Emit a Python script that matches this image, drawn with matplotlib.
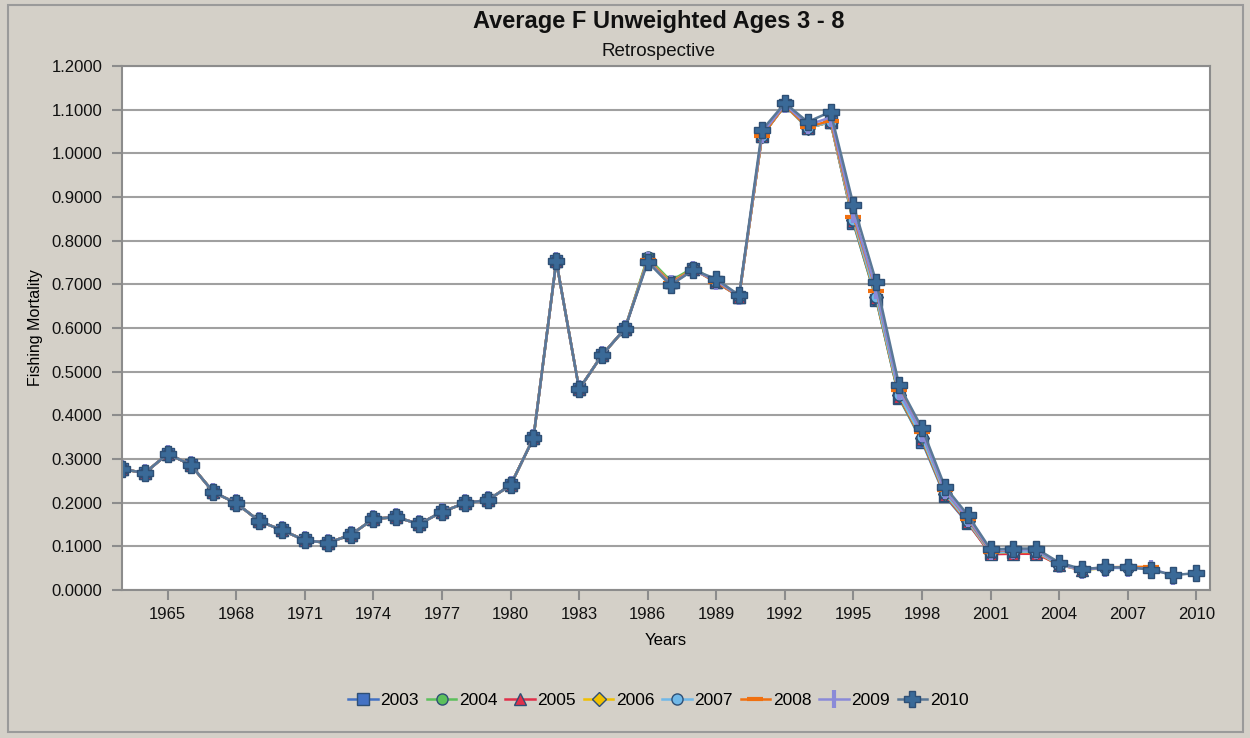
import matplotlib.pyplot as plt
import matplotlib.patches as mpatches

plt.rcParams['font.family'] = ['Liberation Sans', 'DejaVu Sans']

# years 1963-1985 are the same in every retrospective run
years_early = list(range(1963, 1986))
f_early = [0.277, 0.268, 0.312, 0.287, 0.224, 0.199, 0.158, 0.137, 0.114, 0.108,
           0.126, 0.163, 0.167, 0.151, 0.179, 0.199, 0.206, 0.240, 0.348, 0.753,
           0.460, 0.538, 0.598]

# 1986 onwards, one list per terminal year
tail_2003 = [0.758, 0.705, 0.735, 0.705, 0.672, 1.040, 1.110, 1.058, 1.072, 0.840,
             0.665, 0.440, 0.340, 0.215, 0.153, 0.085, 0.087, 0.087]
tail_2004 = [0.762, 0.708, 0.738, 0.705, 0.673, 1.040, 1.110, 1.058, 1.072, 0.842,
             0.665, 0.440, 0.343, 0.217, 0.155, 0.085, 0.088, 0.088, 0.055]
tail_2005 = [0.757, 0.705, 0.735, 0.705, 0.672, 1.040, 1.110, 1.058, 1.072, 0.845,
             0.668, 0.443, 0.345, 0.218, 0.155, 0.082, 0.083, 0.083, 0.058, 0.045]
tail_2006 = [0.757, 0.705, 0.735, 0.705, 0.673, 1.040, 1.110, 1.058, 1.072, 0.847,
             0.670, 0.446, 0.348, 0.221, 0.157, 0.085, 0.087, 0.087, 0.058, 0.046,
             0.050]
tail_2007 = [0.756, 0.704, 0.734, 0.705, 0.673, 1.040, 1.110, 1.058, 1.072, 0.848,
             0.672, 0.447, 0.350, 0.222, 0.158, 0.085, 0.088, 0.088, 0.058, 0.046,
             0.051, 0.050]
tail_2008 = [0.755, 0.703, 0.734, 0.705, 0.673, 1.040, 1.110, 1.060, 1.075, 0.855,
             0.685, 0.458, 0.362, 0.228, 0.163, 0.088, 0.092, 0.092, 0.060, 0.047,
             0.052, 0.053, 0.053]
tail_2009 = [0.753, 0.700, 0.733, 0.708, 0.674, 1.045, 1.112, 1.065, 1.082, 0.862,
             0.688, 0.455, 0.360, 0.228, 0.165, 0.090, 0.092, 0.092, 0.060, 0.047,
             0.051, 0.051, 0.049, 0.033]
tail_2010 = [0.751, 0.698, 0.733, 0.712, 0.675, 1.053, 1.115, 1.072, 1.095, 0.882,
             0.705, 0.469, 0.371, 0.237, 0.172, 0.093, 0.095, 0.095, 0.063, 0.048,
             0.052, 0.052, 0.047, 0.034, 0.039]

run_labels = ['2003', '2004', '2005', '2006', '2007', '2008', '2009', '2010']
run_tails = [tail_2003, tail_2004, tail_2005, tail_2006, tail_2007, tail_2008,
             tail_2009, tail_2010]

colors = ['#4472c4', '#5cc05c', '#e0304a', '#f0c000', '#70b8e8', '#f07010',
          '#8a8ad8', '#3a6a98']
line_colors = ['#4472c4', '#5cc05c', '#e0304a', '#f0c000', '#70b8e8', '#f07010',
               '#8a8ad8', '#5a7896']
markers = ['s', 'o', '^', 'D', 'o', '_', '|', 'P']
msizes = [8, 8, 8, 7, 8, 11, 13, 11]

bg = '#d4d0c8'
fig = plt.figure(figsize=(12.5, 7.38), dpi=100, facecolor=bg)
ax = fig.add_axes([0.0976, 0.2005, 0.8704, 0.7101])
ax.set_facecolor('white')

for lab, tail, c, lc, m, ms in zip(run_labels, run_tails, colors, line_colors,
                                   markers, msizes):
    yrs = years_early + list(range(1986, 1986 + len(tail)))
    vals = f_early + tail
    mew = 3 if m in ('_', '|') else 1
    ax.plot(yrs, vals, color=lc, lw=1.8, marker=m, markersize=ms,
            markerfacecolor=c, markeredgecolor=c if m in ('_', '|') else '#2e4f75',
            markeredgewidth=mew, label=lab)

ax.set_xlim(1963, 2010.6)
ax.set_ylim(0, 1.2)
ax.set_yticks([i / 10 for i in range(13)])
ax.set_yticklabels(['%.4f' % (i / 10) for i in range(13)])
ax.set_xticks(list(range(1965, 2011, 3)))
ax.grid(axis='y', color='#a0a0a0', lw=1.5)
ax.set_axisbelow(True)
for s in ax.spines.values():
    s.set_color('#8c8c8c')
    s.set_linewidth(1.5)
ax.tick_params(axis='both', colors='#8c8c8c', labelcolor='#111111', labelsize=12,
               length=7, width=1.5)
ax.tick_params(axis='y', pad=7)
ax.tick_params(axis='x', pad=5)

ax.set_xlabel('Years', fontsize=12, labelpad=8)
ax.set_ylabel('Fishing Mortality', fontsize=11.5, labelpad=6)

fig.text(0.527, 0.971, 'Average F Unweighted Ages 3 - 8', ha='center', va='center',
         fontsize=17, fontweight='bold', color='#111111')
fig.text(0.527, 0.930, 'Retrospective', ha='center', va='center', fontsize=13.5,
         color='#111111')

ax.legend(loc='center', bbox_to_anchor=(0.493, -0.21), ncol=8, frameon=False,
          fontsize=12.5, handlelength=1.7, handletextpad=0.15, columnspacing=0.45)

fig.patches.append(mpatches.Rectangle((0.006, 0.008), 0.988, 0.985,
                                      transform=fig.transFigure, fill=False,
                                      edgecolor='#9a9a9a', lw=1.5))

fig.savefig('out.png', dpi=100, facecolor=bg)
